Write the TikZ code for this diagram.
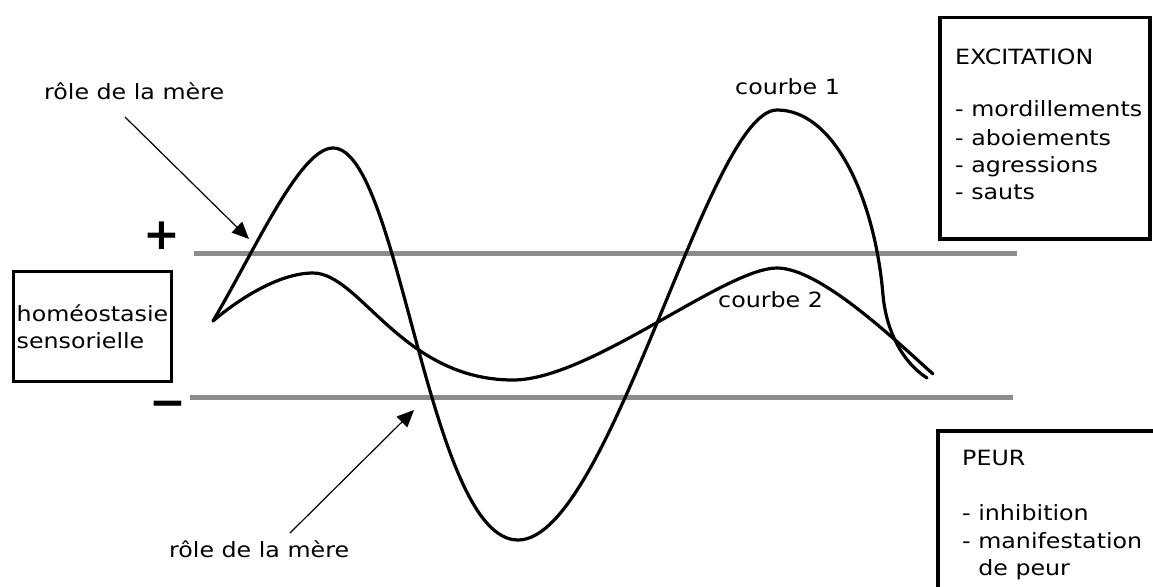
\documentclass[tikz,border=0pt]{standalone}
\usepackage{fontspec}
\usetikzlibrary{arrows.meta}
\newfontfamily\lab{DejaVu Sans}[FakeStretch=1.13]
\newfontfamily\signs{DejaVu Sans}
\definecolor{levelgray}{RGB}{140,140,140}
\begin{document}
\begin{tikzpicture}[x=1pt,y=-1pt,
  labelfont/.style={font=\lab\fontsize{21}{27}\selectfont},
  txt/.style={labelfont, inner sep=0pt, anchor=base west},
  frame/.style={draw, line width=3.5pt, rectangle, inner sep=0pt},
  level/.style={draw=levelgray, line width=5pt},
  curve/.style={line width=3.2pt, line join=round, line cap=round},
  pointer/.style={line width=1.2pt, -{Triangle[length=17pt,width=15pt]}},
  sign/.style={font=\signs\bfseries\fontsize{44}{44}\selectfont, inner sep=0pt}]
\clip (0,0) rectangle (1153,586);
\fill[white] (0,0) rectangle (1153,586);

% levels
\draw[level] (194,253) -- (1017,253);
\draw[level] (190,397) -- (1013,397);

% signs
\node[sign] (plus) at (162,236) {+};
\node[sign] (minus) at (168,409) {−};

% boxes
\node[frame, labelfont, align=left, minimum width=158pt, minimum height=110pt] (homeo) at (92.5,326.5) {homéostasie\\sensorielle};

\node[frame, anchor=north west, minimum width=210pt, minimum height=221pt] (excit) at (938,16) {};
\node[txt] (ex0) at (955,65) {EXCITATION};
\node[txt] (ex1) at (955,116) {- mordillements};
\node[txt] (ex2) at (955,145) {- aboiements};
\node[txt] (ex3) at (955,172) {- agressions};
\node[txt] (ex4) at (955,199) {- sauts};

\node[frame, anchor=north west, minimum width=260pt, minimum height=220pt] (peur) at (936,429) {};
\node[txt] (pe0) at (962,465) {PEUR};
\node[txt] (pe1) at (962,520) {- inhibition};
\node[txt] (pe2) at (962,548) {- manifestation};
\node[txt] (pe3) at (962,575) {\phantom{- }de peur};

% labels
\node[txt] (role1) at (44,99) {rôle de la mère};
\node[txt] (role2) at (169,557) {rôle de la mère};
\node[txt] (c1) at (735,94) {courbe 1};
\node[txt] (c2) at (718,307) {courbe 2};

% arrows
\coordinate (t1) at (249,239);
\coordinate (t2) at (414,410);
\draw[pointer] ([shift={(81,18)}]role1.base west) -- (t1);
\draw[pointer] ([shift={(121,-24)}]role2.base west) -- (t2);

% curves
\draw[curve] (213,321) .. controls (255,250) and (300,148) .. (333,148)
  .. controls (400,148) and (428,540) .. (518,540)
  .. controls (610,540) and (708,110) .. (777,110)
  .. controls (835,110) and (875,200) .. (883,295)
  .. controls (886,330) and (902,362) .. (927,378);
\draw[curve] (213,321) .. controls (240,298) and (280,273) .. (313,273)
  .. controls (360,273) and (402,380) .. (513,380)
  .. controls (590,380) and (725,268) .. (777,268)
  .. controls (820,268) and (895,340) .. (933,374);
\end{tikzpicture}
\end{document}
